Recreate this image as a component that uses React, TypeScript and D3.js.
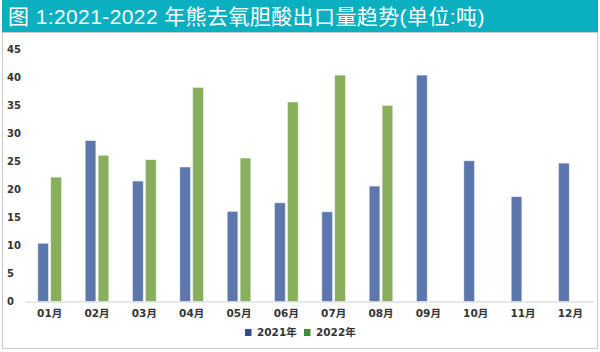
import React from "react";
import * as d3 from "d3";

const months = ["01月", "02月", "03月", "04月", "05月", "06月", "07月", "08月", "09月", "10月", "11月", "12月"];
const series = ["2021年", "2022年"];
const values2021 = [10.4, 28.7, 21.5, 24.0, 16.1, 17.6, 16.0, 20.6, 40.4, 25.1, 18.7, 24.7];
const values2022: (number | null)[] = [22.2, 26.1, 25.3, 38.2, 25.6, 35.6, 40.4, 35.0, null, null, null, null];
const yTicks = [0, 5, 10, 15, 20, 25, 30, 35, 40, 45];
const title = "图 1:2021-2022 年熊去氧胆酸出口量趋势(单位:吨)";

const barColors = ["#5b77ab", "#8aaf5c"];
const legendColors = ["#2f4d8c", "#3b8d3b"];

export default function App() {
  const W = 600;
  const H = 352;
  const x0 = d3.scaleBand<string>().domain(months).range([26, 594]).paddingInner(0.5).paddingOuter(0.25);
  const x1 = d3.scaleBand<string>().domain(series).range([0, x0.bandwidth()]).paddingInner(0.17);
  const y = d3.scaleLinear().domain([0, 45]).range([301.5, 49.3]);
  const data = [values2021, values2022];
  const font = "'DejaVu Sans', 'Noto Sans CJK SC', sans-serif";
  return (
    <svg width={W} height={H} style={{ position: "absolute", left: 0, top: 0 }}>
      <rect x={0} y={0} width={W} height={H} fill="#fff" />
      <rect x={2} y={0} width={596} height={32} fill="#0aafc0" />
      <text x={8} y={24} fill="#fff" fontSize={21} letterSpacing={0.4} fontFamily="'Liberation Sans', 'Noto Sans CJK SC', sans-serif">
        {title}
      </text>
      <rect x={2.5} y={32.5} width={595} height={316} fill="none" stroke="#c9c9c9" />
      {yTicks.map((t) => (
        <text key={t} x={7} y={y(t)} dy="0.35em" fontSize={10} fontWeight="bold" fill="#333" fontFamily={font}>
          {t}
        </text>
      ))}
      <line x1={26} x2={594} y1={y(0) + 0.5} y2={y(0) + 0.5} stroke="#d0d0d0" />
      {months.map((m, i) => (
        <g key={m} transform={`translate(${x0(m)},0)`}>
          {series.map((s, si) => {
            const v = data[si][i];
            if (v == null) return null;
            return (
              <rect
                key={s}
                x={x1(s)}
                y={y(v)}
                width={x1.bandwidth()}
                height={y(0) - y(v)}
                fill={barColors[si]}
                stroke="#eef2f6"
                strokeWidth={0.6}
              />
            );
          })}
          <text
            x={x0.bandwidth() / 2}
            y={313}
            dy="0.35em"
            textAnchor="middle"
            fontSize={10.5}
            fontWeight="bold"
            fill="#333"
            fontFamily={font}
          >
            {m}
          </text>
        </g>
      ))}
      {series.map((s, si) => {
        const lx = 245 + si * 59;
        return (
          <g key={s}>
            <rect x={lx} y={329} width={6.5} height={7} fill={legendColors[si]} />
            <text x={lx + 12} y={332.5} dy="0.35em" fontSize={10.5} fontWeight="bold" fill="#333" fontFamily={font}>
              {s}
            </text>
          </g>
        );
      })}
    </svg>
  );
}
